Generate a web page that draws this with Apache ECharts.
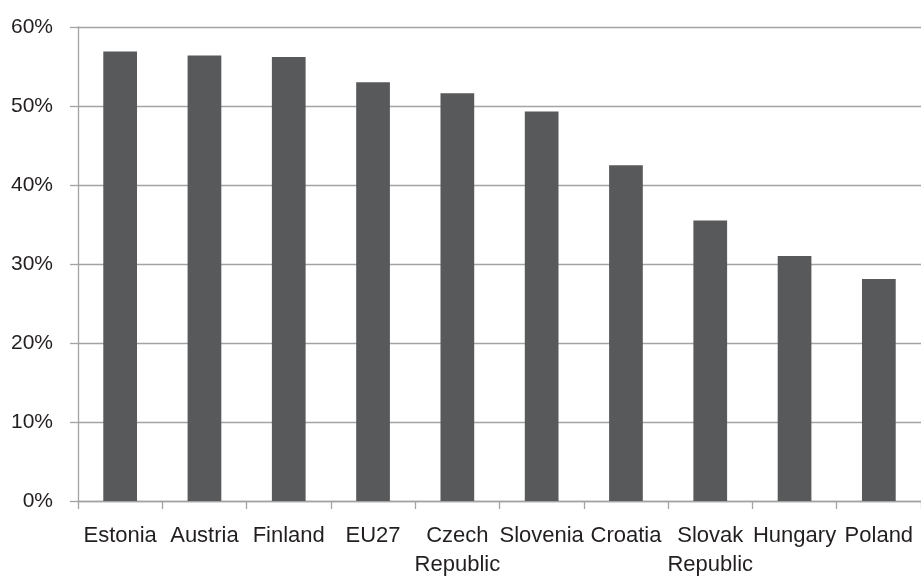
<!DOCTYPE html>
<html>
<head>
<meta charset="utf-8">
<style>
  html, body { margin: 0; padding: 0; background: #fff; }
  #chart { width: 921px; height: 579px; }
</style>
<script src="https://cdn.jsdelivr.net/npm/echarts@6/dist/echarts.min.js"></script>
</head>
<body>
<div id="chart"></div>
<script>
// Share by country (percent)
const categories = ['Estonia', 'Austria', 'Finland', 'EU27', 'Czech\nRepublic', 'Slovenia', 'Croatia', 'Slovak\nRepublic', 'Hungary', 'Poland'];
const values = [56.9, 56.4, 56.2, 53.0, 51.6, 49.3, 42.5, 35.5, 31.0, 28.1];
const yTicks = { min: 0, max: 60, interval: 10 };

const gridGray = '#a3a3a3';
const textColor = '#231f20';
const fontFamily = '"Liberation Sans", Arial, Helvetica, sans-serif';

const chart = echarts.init(document.getElementById('chart'), null, { renderer: 'canvas' });
chart.setOption({
  animation: false,
  backgroundColor: '#ffffff',
  grid: { left: 78, top: 27, width: 853, height: 476, containLabel: false },
  xAxis: {
    type: 'category',
    data: categories,
    boundaryGap: true,
    axisLine: { show: true, lineStyle: { color: gridGray, width: 1.3 } },
    axisTick: { show: true, length: 8, alignWithLabel: false, lineStyle: { color: gridGray, width: 1.3 } },
    axisLabel: {
      interval: 0,
      margin: 20,
      color: textColor,
      fontFamily: fontFamily,
      fontSize: 22,
      lineHeight: 29
    }
  },
  yAxis: {
    type: 'value',
    min: yTicks.min,
    max: yTicks.max,
    interval: yTicks.interval,
    axisLine: { show: true, lineStyle: { color: gridGray, width: 1.3 } },
    axisTick: { show: true, length: 8, lineStyle: { color: gridGray, width: 1.3 } },
    splitLine: { show: true, lineStyle: { color: gridGray, width: 1.3 } },
    axisLabel: {
      margin: 25,
      color: textColor,
      fontFamily: fontFamily,
      fontSize: 21,
      formatter: v => v + '%'
    }
  },
  series: [{
    type: 'bar',
    data: values,
    barWidth: '40%',
    itemStyle: { color: '#58595b' },
    silent: true
  }]
});
</script>
</body>
</html>
